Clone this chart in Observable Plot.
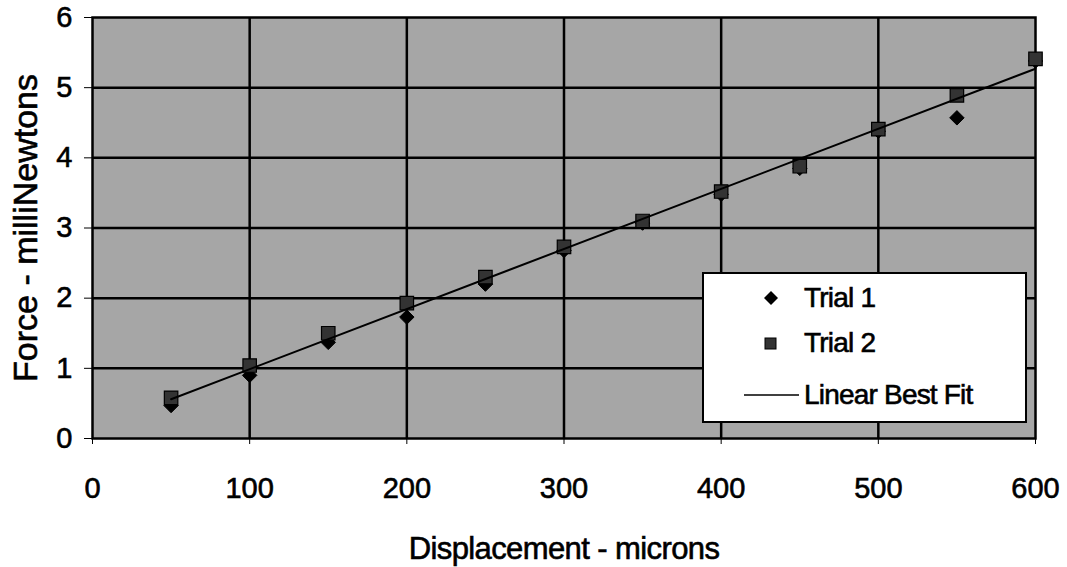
<!DOCTYPE html>
<html>
<head>
<meta charset="utf-8">
<script src="https://cdn.jsdelivr.net/npm/d3@7"></script>
<script src="https://cdn.jsdelivr.net/npm/@observablehq/plot@0.6"></script>
<style>
  html, body { margin: 0; padding: 0; background: #fff; }
  #wrap { position: relative; width: 1067px; height: 567px; font-family: "Liberation Sans", Arial, sans-serif; }
  #legend { position: absolute; left: 702px; top: 272px; width: 321px; height: 147px; border: 2px solid #000; background: #fff; }
  #legend .row { position: absolute; left: 0; height: 40px; display: flex; align-items: center; font-size: 28px; letter-spacing: -0.8px; color: #000; -webkit-text-stroke: 0.6px #000; }
  #legend svg { display: block; }
  svg text { stroke: #000; stroke-width: 0.6px; }
</style>
</head>
<body>
<div id="wrap"></div>
<script>
// Data
const displacement = [50, 100, 150, 200, 250, 300, 350, 400, 450, 500, 550, 600];
const trial1 = [0.47, 0.9, 1.37, 1.73, 2.2, 2.68, 3.07, 3.48, 3.85, 4.38, 4.57, 5.38];
const trial2 = [0.58, 1.04, 1.5, 1.93, 2.3, 2.73, 3.1, 3.52, 3.88, 4.41, 4.89, 5.41];
const fitX = [50, 600];
const fitY = [0.56, 5.27];
const xTicks = [0, 100, 200, 300, 400, 500, 600];
const yTicks = [0, 1, 2, 3, 4, 5, 6];
const seriesNames = ["Trial 1", "Trial 2", "Linear Best Fit"];

const t1 = displacement.map((d, i) => ({x: d, y: trial1[i]}));
const t2 = displacement.map((d, i) => ({x: d, y: trial2[i]}));
const fit = fitX.map((d, i) => ({x: d, y: fitY[i]}));

const chart = Plot.plot({
  width: 1067,
  height: 567,
  marginLeft: 92,
  marginRight: 32,
  marginTop: 17,
  marginBottom: 129,
  style: {fontFamily: "'Liberation Sans', Arial, sans-serif", background: "#fff", color: "#000", overflow: "visible"},
  x: {domain: [0, 600]},
  y: {domain: [0, 6]},
  marks: [
    Plot.frame({fill: "url(#dither)", stroke: null}),
    Plot.gridX(xTicks.slice(1, -1), {stroke: "#000", strokeOpacity: 1, strokeWidth: 2.5}),
    Plot.gridY(yTicks.slice(1, -1), {stroke: "#000", strokeOpacity: 1, strokeWidth: 2.5}),
    Plot.frame({stroke: "#000", strokeWidth: 2.5}),
    Plot.axisX({ticks: xTicks, tickSize: 6, tickPadding: 33, fontSize: 29, tickFormat: d3.format("d"),
      label: "Displacement - microns", labelAnchor: "center", labelArrow: "none", labelOffset: 120}),
    Plot.axisY({ticks: yTicks, tickSize: 8, tickPadding: 12, fontSize: 29, tickFormat: d3.format("d"),
      label: "Force - milliNewtons", labelAnchor: "center", labelArrow: "none", labelOffset: 80}),
    Plot.dot(t1, {x: "x", y: "y", symbol: "diamond2", r: 6.5, fill: "#000", stroke: "#000", strokeWidth: 1}),
    Plot.dot(t2, {x: "x", y: "y", symbol: "square", r: 7.6, fill: "#333", stroke: "#000", strokeWidth: 1.2}),
    Plot.line(fit, {x: "x", y: "y", stroke: "#000", strokeWidth: 2})
  ]
});

// dither pattern for the plot area
const ns = "http://www.w3.org/2000/svg";
const defs = document.createElementNS(ns, "defs");
defs.innerHTML = `<pattern id="dither" width="2" height="2" patternUnits="userSpaceOnUse">
  <rect width="2" height="2" fill="#f4f4f4"/>
  <rect x="0" y="0" width="1" height="1" fill="#585858"/>
  <rect x="1" y="1" width="1" height="1" fill="#585858"/>
</pattern>`;
chart.insertBefore(defs, chart.firstChild);

// axis title font sizes
d3.select(chart).selectAll("g[aria-label='x-axis label'] text")
  .style("font-size", "31px").attr("letter-spacing", "-0.6");
d3.select(chart).selectAll("g[aria-label='y-axis label'] text")
  .style("font-size", "34px");

const wrap = document.getElementById("wrap");
wrap.appendChild(chart);

// legend
const legend = document.createElement("div");
legend.id = "legend";
const rows = [
  {top: 4, sym: `<svg width="100" height="30"><path d="M67,8 L74,15 L67,22 L60,15Z" fill="#000"/></svg>`},
  {top: 49, sym: `<svg width="100" height="30"><rect x="61" y="10" width="11" height="11" fill="#333" stroke="#000" stroke-width="1"/></svg>`},
  {top: 101, sym: `<svg width="100" height="30"><line x1="40" x2="95" y1="15" y2="15" stroke="#000" stroke-width="1.5"/></svg>`}
];
rows.forEach((r, i) => {
  const row = document.createElement("div");
  row.className = "row";
  row.style.top = r.top + "px";
  row.innerHTML = r.sym + `<span>${seriesNames[i]}</span>`;
  legend.appendChild(row);
});
wrap.appendChild(legend);
</script>
</body>
</html>
